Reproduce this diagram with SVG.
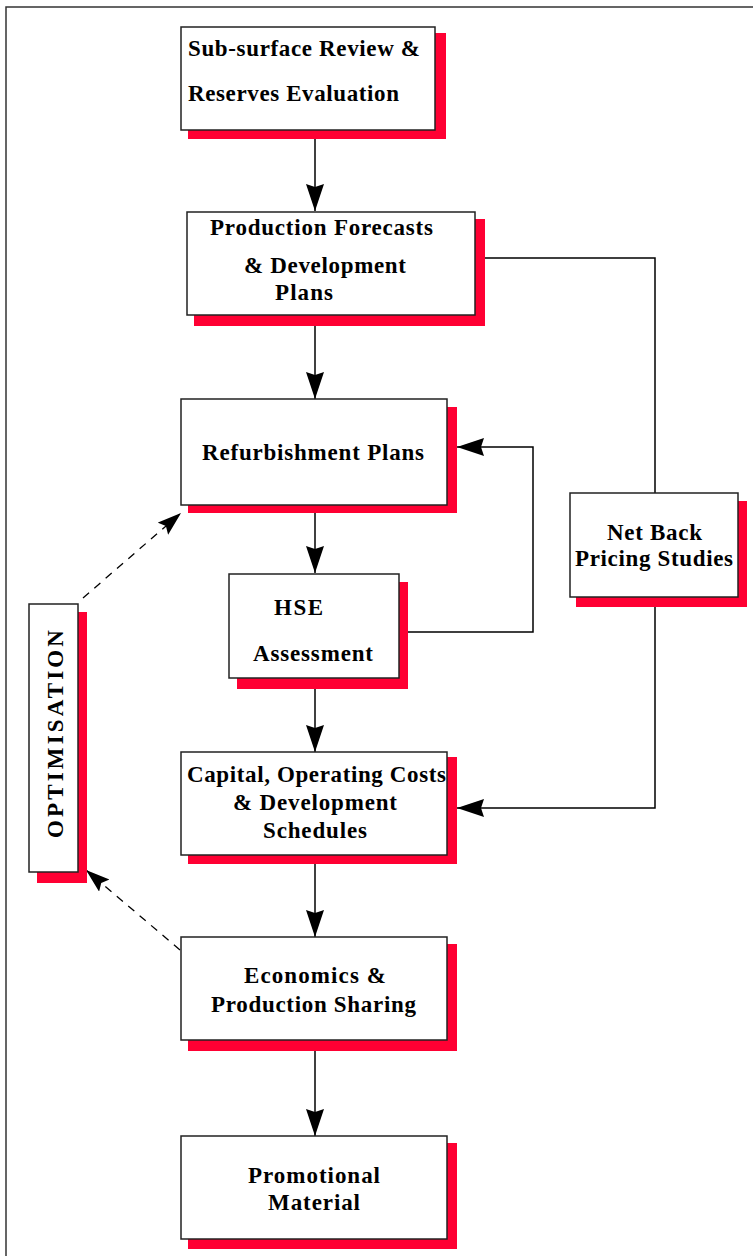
<svg xmlns="http://www.w3.org/2000/svg" width="753" height="1256" viewBox="0 0 753 1256">
<style>
.box{fill:#fff;stroke:#222;stroke-width:1.5}
.sh{fill:#ff0033}
.t{font-family:"Liberation Serif","Times New Roman",serif;font-weight:bold;font-size:23px;fill:#000}
.ln{fill:none;stroke:#000;stroke-width:1.5}
.dash{fill:none;stroke:#000;stroke-width:1.3;stroke-dasharray:8,7}
</style>
<defs>
<marker id="arr" markerUnits="userSpaceOnUse" markerWidth="28" markerHeight="20" refX="27" refY="9" orient="auto">
<path d="M0,0 L27,9 L0,18 L3,9 Z" fill="#000"/>
</marker>
<marker id="arrs" markerUnits="userSpaceOnUse" markerWidth="26" markerHeight="18" refX="24" refY="8" orient="auto">
<path d="M0,0 L24,8 L0,16 L4,8 Z" fill="#000"/>
</marker>
</defs>
<rect x="0" y="0" width="753" height="1256" fill="#fff"/>
<path d="M6,1256 V7 H753" fill="none" stroke="#333" stroke-width="1.5"/>

<g id="connectors">
<line class="ln" x1="315" y1="130" x2="315" y2="211" marker-end="url(#arr)"/>
<line class="ln" x1="315" y1="326" x2="315" y2="399" marker-end="url(#arr)"/>
<line class="ln" x1="315" y1="513" x2="315" y2="573" marker-end="url(#arr)"/>
<line class="ln" x1="315" y1="689" x2="315" y2="752" marker-end="url(#arr)"/>
<line class="ln" x1="315" y1="864" x2="315" y2="937" marker-end="url(#arr)"/>
<line class="ln" x1="315" y1="1051" x2="315" y2="1136" marker-end="url(#arr)"/>
<polyline class="ln" points="485,258 655,258 655,493"/>
<polyline class="ln" points="655,607 655,808 457,808" marker-end="url(#arr)"/>
<polyline class="ln" points="408,632 533,632 533,447 457,447" marker-end="url(#arr)"/>
<line class="dash" x1="83" y1="598" x2="181" y2="513" marker-end="url(#arrs)"/>
<line class="dash" x1="180" y1="950" x2="86" y2="870" marker-end="url(#arrs)"/>
</g>

<g id="n1">
<rect class="sh" x="188" y="33" width="258" height="106"/>
<rect class="box" x="181" y="27" width="254" height="103"/>
<text class="t" x="188" y="56" textLength="232" lengthAdjust="spacing">Sub-surface Review &amp;</text>
<text class="t" x="188" y="101" textLength="211" lengthAdjust="spacing">Reserves Evaluation</text>
</g>

<g id="n2">
<rect class="sh" x="194" y="219" width="291" height="107"/>
<rect class="box" x="187" y="212" width="288" height="103"/>
<text class="t" x="210" y="235" textLength="223" lengthAdjust="spacing">Production Forecasts</text>
<text class="t" x="244" y="273" textLength="162" lengthAdjust="spacing">&amp; Development</text>
<text class="t" x="275" y="300" textLength="58" lengthAdjust="spacing">Plans</text>
</g>

<g id="n3">
<rect class="sh" x="188" y="407" width="269" height="106"/>
<rect class="box" x="181" y="399" width="266" height="106"/>
<text class="t" x="202" y="460" textLength="222" lengthAdjust="spacing">Refurbishment Plans</text>
</g>

<g id="n4">
<rect class="sh" x="237" y="582" width="171" height="107"/>
<rect class="box" x="229" y="574" width="170" height="104"/>
<text class="t" x="274" y="615" textLength="49" lengthAdjust="spacing">HSE</text>
<text class="t" x="253" y="661" textLength="120" lengthAdjust="spacing">Assessment</text>
</g>

<g id="n5">
<rect class="sh" x="576" y="501" width="171" height="106"/>
<rect class="box" x="570" y="493" width="168" height="104"/>
<text class="t" x="607" y="540" textLength="95" lengthAdjust="spacing">Net Back</text>
<text class="t" x="575" y="566" textLength="158" lengthAdjust="spacing">Pricing Studies</text>
</g>

<g id="n6">
<rect class="sh" x="188" y="757" width="269" height="107"/>
<rect class="box" x="181" y="752" width="266" height="103"/>
<text class="t" x="187" y="782" textLength="259" lengthAdjust="spacing">Capital, Operating Costs</text>
<text class="t" x="233" y="810" textLength="164" lengthAdjust="spacing">&amp; Development</text>
<text class="t" x="263" y="838" textLength="104" lengthAdjust="spacing">Schedules</text>
</g>

<g id="n7">
<rect class="sh" x="188" y="944" width="269" height="107"/>
<rect class="box" x="181" y="937" width="266" height="103"/>
<text class="t" x="244" y="983" textLength="142" lengthAdjust="spacing">Economics &amp;</text>
<text class="t" x="211" y="1012" textLength="205" lengthAdjust="spacing">Production Sharing</text>
</g>

<g id="n8">
<rect class="sh" x="188" y="1143" width="269" height="106"/>
<rect class="box" x="181" y="1136" width="266" height="103"/>
<text class="t" x="248" y="1183" textLength="132" lengthAdjust="spacing">Promotional</text>
<text class="t" x="268" y="1210" textLength="92" lengthAdjust="spacing">Material</text>
</g>

<g id="n9">
<rect class="sh" x="37" y="612" width="50" height="271"/>
<rect class="box" x="29" y="604" width="49" height="268"/>
<text class="t" transform="translate(63,838) rotate(-90)" x="0" y="0" textLength="208" lengthAdjust="spacing">OPTIMISATION</text>
</g>
</svg>
